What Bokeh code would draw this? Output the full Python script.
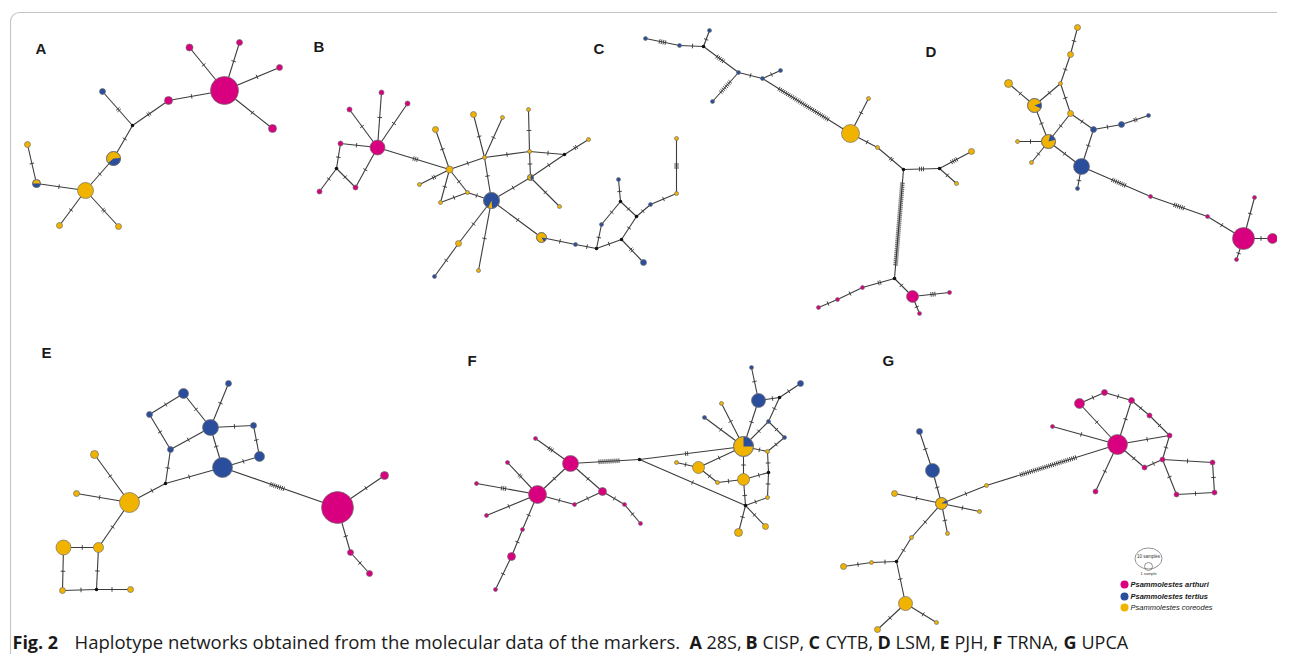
import math
from bokeh.plotting import figure
from bokeh.models import Range1d, BoxAnnotation
from bokeh.embed import file_html
from bokeh.resources import INLINE
from bokeh.core.properties import value

H = 670  # image height, used to flip y (data y = H - pixel y)

COLORS = {"a": "#d8007f", "t": "#2b4e9c", "c": "#f0b400", "m": "#111111"}

# ---- node lists: (name, x, y, radius, species)  a=arthuri t=tertius c=coreodes m=median vector
A_nodes = [("P0", 224, 90, 14, "a"), ("P1", 189, 47, 3.5, "a"), ("P2", 239, 42, 3, "a"),
           ("P3", 279, 67, 3, "a"), ("P4", 272, 128, 4, "a"), ("P5", 168, 100, 4, "a"),
           ("J1", 132, 125, 1.8, "m"), ("B1", 102, 91, 3, "t"), ("X1", 113, 158, 7, "c"),
           ("Y0", 85, 190, 8, "c"), ("X2", 36, 183, 4, "c"), ("Y1", 27, 144, 3, "c"),
           ("Y2", 59, 225, 3, "c"), ("Y3", 118, 226, 3, "c")]
A_edges = [("P0", "P1", 1), ("P0", "P2", 1), ("P0", "P3", 1), ("P0", "P4", 1), ("P0", "P5", 1),
           ("P5", "J1", 2), ("J1", "B1", 2), ("J1", "X1", 1), ("X1", "Y0", 1), ("Y0", "X2", 1),
           ("X2", "Y1", 1), ("Y0", "Y2", 1), ("Y0", "Y3", 2)]

B_nodes = [("P0", 377, 147, 7.5, "a"), ("P1", 381, 92, 2.5, "a"), ("P2", 407, 103, 2.5, "a"),
           ("P3", 349, 109, 2.5, "a"), ("P4", 340, 143, 2.5, "a"), ("J1", 336, 168, 1.8, "m"),
           ("P5", 319, 191, 2.5, "a"), ("P6", 355, 187, 2.5, "a"), ("Y1", 449, 169, 3.5, "c"),
           ("Y2", 435, 129, 3, "c"), ("Y3", 419, 184, 2, "c"), ("Y4", 440, 202, 2, "c"),
           ("Y5", 467, 192, 2, "c"), ("Y6", 484, 157, 2, "c"), ("Y7", 473, 114, 3, "c"),
           ("Y8", 502, 117, 2, "c"), ("Y9", 529, 151, 2, "c"), ("Y10", 528, 109, 2, "c"),
           ("J2", 564, 154, 1.8, "m"), ("Y11", 588, 139, 2, "c"), ("X1", 530, 177, 3, "c"),
           ("Y12", 559, 206, 2, "c"), ("B0", 491, 200, 8, "t"), ("Y13", 458, 243, 3, "c"),
           ("B1", 434, 276, 2, "t"), ("Y14", 478, 270, 2, "c"), ("X2", 541, 237, 5, "c"),
           ("B2", 575, 244, 2, "t"), ("J3", 596, 248, 1.8, "m"), ("B3", 601, 224, 2, "t"),
           ("J4", 620, 201, 1.8, "m"), ("B4", 618, 179, 2, "t"), ("J5", 636, 216, 1.8, "m"),
           ("J6", 621, 239, 1.8, "m"), ("B5", 643, 262, 3, "t"), ("B6", 650, 204, 2, "t"),
           ("Y15", 676, 193, 2, "c"), ("Y16", 676, 138, 2, "c")]
B_edges = [("P0", "P1", 1), ("P0", "P2", 1), ("P0", "P3", 1), ("P0", "P4", 1), ("P4", "J1", 1),
           ("J1", "P5", 1), ("J1", "P6", 1), ("P6", "P0", 1), ("P0", "Y1", 3), ("Y1", "Y2", 1),
           ("Y1", "Y3", 2), ("Y1", "Y4", 1), ("Y1", "Y5", 1), ("Y5", "Y4", 1), ("Y5", "B0", 1),
           ("Y1", "Y6", 1), ("Y6", "Y7", 1), ("Y6", "Y8", 1), ("Y6", "B0", 1), ("Y6", "Y9", 1),
           ("Y9", "Y10", 1), ("Y9", "J2", 1), ("J2", "Y11", 2), ("J2", "X1", 1), ("Y9", "X1", 1),
           ("X1", "Y12", 1), ("X1", "B0", 1), ("B0", "Y13", 1), ("Y13", "B1", 1), ("B0", "Y14", 1),
           ("B0", "X2", 1), ("X2", "B2", 1), ("B2", "J3", 1), ("J3", "B3", 1), ("B3", "J4", 1),
           ("J4", "B4", 1), ("J4", "J5", 1), ("J3", "J6", 1), ("J6", "J5", 1), ("J6", "B5", 2),
           ("J5", "B6", 1), ("B6", "Y15", 1), ("Y15", "Y16", 3)]

C_nodes = [("B1", 645, 38, 2, "t"), ("B2", 679, 45, 2, "t"), ("J1", 703, 46, 1.8, "m"),
           ("B3", 709, 30, 2, "t"), ("B4", 738, 72, 2, "t"), ("B5", 712, 101, 2, "t"),
           ("B6", 762, 78, 2, "t"), ("B7", 780, 70, 2, "t"), ("Y0", 850, 133, 9, "c"),
           ("Y1", 868, 98, 2, "c"), ("Y2", 877, 147, 2, "c"), ("J2", 903, 169, 1.8, "m"),
           ("J3", 939, 168, 1.8, "m"), ("Y3", 971, 151, 3, "c"), ("Y4", 956, 183, 2, "c"),
           ("J4", 894, 278, 1.8, "m"), ("P0", 912, 296, 6, "a"), ("P1", 949, 292, 2, "a"),
           ("P2", 919, 313, 2, "a"), ("P3", 862, 287, 2, "a"), ("P4", 837, 299, 2, "a"),
           ("P5", 818, 307, 2, "a")]
C_edges = [("B1", "B2", 4), ("B2", "J1", 1), ("J1", "B3", 1), ("J1", "B4", 5), ("B4", "B5", 8),
           ("B4", "B6", 1), ("B6", "B7", 1), ("B6", "Y0", 30), ("Y0", "Y1", 1), ("Y0", "Y2", 1),
           ("Y2", "J2", 2), ("J2", "J3", 3), ("J3", "Y3", 4), ("J3", "Y4", 1), ("J2", "J4", 42),
           ("J4", "P0", 1), ("J4", "P3", 2), ("P3", "P4", 1), ("P4", "P5", 1), ("P0", "P1", 3),
           ("P0", "P2", 1)]

D_nodes = [("Y1", 1077, 27, 3, "c"), ("Y2", 1070, 54, 3, "c"), ("Y3", 1008, 83, 4, "c"),
           ("Y4", 1060, 83, 2, "c"), ("X1", 1034, 105, 7, "c"), ("Y5", 1070, 113, 3, "c"),
           ("B1", 1093, 129, 3, "t"), ("B2", 1121, 124, 3, "t"), ("B3", 1148, 115, 2, "t"),
           ("X2", 1048, 141, 7, "c"), ("Y6", 1017, 141, 2, "c"), ("Y7", 1031, 162, 2, "c"),
           ("B0", 1081, 166, 8, "t"), ("B4", 1077, 188, 2, "t"), ("P1", 1150, 196, 2, "a"),
           ("P2", 1207, 216, 2, "a"), ("P0", 1243, 238, 11, "a"), ("P3", 1254, 197, 2, "a"),
           ("P4", 1236, 259, 2, "a"), ("P5", 1272, 238, 5, "a")]
D_edges = [("Y1", "Y2", 1), ("Y2", "Y4", 1), ("Y4", "X1", 1), ("Y4", "Y5", 1), ("Y3", "X1", 1),
           ("X1", "X2", 1), ("Y5", "X2", 1), ("Y5", "B1", 1), ("B1", "B2", 1), ("B2", "B3", 2),
           ("B1", "B0", 1), ("X2", "Y6", 1), ("X2", "Y7", 1), ("X2", "B0", 1), ("B0", "B4", 1),
           ("B0", "P1", 8), ("P1", "P2", 6), ("P2", "P0", 1), ("P0", "P3", 1), ("P0", "P4", 1),
           ("P0", "P5", 1)]

E_nodes = [("B1", 183, 393, 5, "t"), ("B2", 228, 383, 3, "t"), ("B3", 149, 414, 3, "t"),
           ("B0", 210, 427, 8, "t"), ("B4", 253, 425, 3, "t"), ("B5", 170, 449, 3, "t"),
           ("B6", 259, 456, 5, "t"), ("B7", 222, 467, 10, "t"), ("J1", 165, 483, 1.8, "m"),
           ("Y1", 94, 454, 4, "c"), ("Y2", 76, 493, 3, "c"), ("Y0", 129, 502, 10, "c"),
           ("Y3", 63, 547, 7.5, "c"), ("Y4", 98, 547, 5, "c"), ("Y5", 62, 590, 3, "c"),
           ("J2", 96, 589, 1.8, "m"), ("Y6", 130, 589, 3, "c"), ("P0", 337, 507, 16, "a"),
           ("P1", 384, 475, 4, "a"), ("P2", 350, 552, 3, "a"), ("P3", 369, 573, 3, "a")]
E_edges = [("B1", "B3", 1), ("B1", "B0", 1), ("B2", "B0", 1), ("B3", "B5", 1), ("B5", "B0", 1),
           ("B0", "B4", 1), ("B4", "B6", 1), ("B6", "B7", 1), ("B0", "B7", 1), ("B5", "J1", 1),
           ("J1", "B7", 1), ("J1", "Y0", 1), ("Y0", "Y1", 1), ("Y0", "Y2", 1), ("Y0", "Y4", 1),
           ("Y3", "Y4", 1), ("Y3", "Y5", 1), ("Y4", "J2", 1), ("J2", "Y5", 1), ("J2", "Y6", 1),
           ("B7", "P0", 8), ("P0", "P1", 1), ("P0", "P2", 1), ("P2", "P3", 1)]

F_nodes = [("P1", 535, 438, 2, "a"), ("P0", 570, 463, 8, "a"), ("P2", 507, 462, 2, "a"),
           ("P3", 476, 483, 2, "a"), ("P4", 537, 494, 9, "a"), ("P5", 486, 515, 2, "a"),
           ("P6", 574, 504, 2, "a"), ("P7", 602, 491, 4, "a"), ("P8", 624, 504, 2, "a"),
           ("P9", 640, 523, 2, "a"), ("P10", 522, 529, 2, "a"), ("P11", 511, 556, 4, "a"),
           ("P12", 495, 589, 2, "a"), ("J1", 639, 459, 1.8, "m"), ("J2", 745, 505, 1.8, "m"),
           ("X0", 743, 446, 10, "c"), ("B0", 758, 400, 7, "t"), ("B1", 751, 367, 2, "t"),
           ("B2", 800, 383, 3, "t"), ("J3", 779, 397, 1.8, "m"), ("B3", 768, 421, 2, "t"),
           ("B4", 784, 437, 2, "t"), ("Y1", 767, 451, 2, "c"), ("Y2", 721, 403, 2, "c"),
           ("B5", 704, 417, 2, "t"), ("Y3", 698, 467, 6, "c"), ("Y4", 676, 462, 2, "c"),
           ("Y5", 717, 482, 2, "c"), ("Y6", 743, 479, 6, "c"), ("J4", 768, 472, 1.8, "m"),
           ("Y7", 767, 497, 2, "c"), ("Y8", 738, 532, 4, "c"), ("Y9", 765, 526, 3, "c")]
F_edges = [("P1", "P0", 3), ("P0", "P4", 1), ("P0", "P7", 1), ("P0", "J1", 11), ("P2", "P4", 2),
           ("P3", "P4", 3), ("P5", "P4", 1), ("P4", "P6", 1), ("P6", "P7", 1), ("P7", "P8", 1),
           ("P8", "P9", 1), ("P4", "P10", 1), ("P10", "P11", 1), ("P11", "P12", 1), ("J1", "X0", 2),
           ("J1", "J2", 1), ("X0", "Y3", 1), ("X0", "Y2", 1), ("X0", "B5", 1), ("X0", "B0", 1),
           ("B0", "B1", 1), ("B0", "J3", 1), ("J3", "B2", 1), ("J3", "B3", 1), ("B3", "X0", 1),
           ("B3", "B4", 1), ("B4", "Y1", 1), ("X0", "Y1", 1), ("Y4", "Y3", 1), ("Y3", "Y5", 1),
           ("Y5", "Y6", 1), ("X0", "Y6", 1), ("Y6", "J4", 1), ("Y1", "J4", 1), ("J4", "Y7", 1),
           ("Y6", "J2", 1), ("Y7", "J2", 1), ("J2", "Y8", 1), ("J2", "Y9", 1)]

G_nodes = [("P1", 1079, 403, 5, "a"), ("P2", 1104, 392, 3, "a"), ("P3", 1131, 400, 3, "a"),
           ("P4", 1149, 415, 2.5, "a"), ("P5", 1169, 435, 2.5, "a"), ("P6", 1052, 426, 2, "a"),
           ("P0", 1117, 444, 10, "a"), ("P7", 1162, 459, 2.5, "a"), ("P8", 1144, 467, 2.5, "a"),
           ("P9", 1095, 491, 2.5, "a"), ("P10", 1212, 462, 2.5, "a"), ("P11", 1214, 492, 2.5, "a"),
           ("P12", 1176, 494, 2.5, "a"), ("B1", 919, 431, 3, "t"), ("B0", 932, 470, 7, "t"),
           ("X0", 941, 503, 6, "c"), ("Y1", 894, 493, 3, "c"), ("Y2", 979, 511, 2, "c"),
           ("Y3", 947, 533, 2, "c"), ("Y4", 986, 485, 2, "c"), ("Y5", 911, 537, 2, "c"),
           ("J1", 896, 561, 1.8, "m"), ("Y6", 871, 562, 2, "c"), ("Y7", 843, 566, 3, "c"),
           ("Y0", 905, 603, 7, "c"), ("Y8", 877, 629, 3, "c"), ("Y9", 936, 622, 2, "c")]
G_edges = [("P1", "P2", 1), ("P2", "P3", 1), ("P3", "P4", 1), ("P4", "P5", 1), ("P1", "P0", 1),
           ("P3", "P0", 1), ("P6", "P0", 1), ("P0", "P5", 1), ("P5", "P7", 1), ("P0", "P8", 1),
           ("P8", "P7", 1), ("P0", "P9", 1), ("P7", "P10", 1), ("P10", "P11", 1), ("P11", "P12", 1),
           ("P12", "P7", 1), ("P0", "Y4", 30), ("Y4", "X0", 1), ("X0", "B0", 1), ("B0", "B1", 1),
           ("X0", "Y1", 1), ("X0", "Y2", 1), ("X0", "Y3", 1), ("X0", "Y5", 1), ("Y5", "J1", 1),
           ("J1", "Y6", 1), ("Y6", "Y7", 1), ("J1", "Y0", 1), ("Y0", "Y8", 1), ("Y0", "Y9", 1)]

# ---- mixed haplotypes: (panel, node, species of wedge, start deg, end deg) counter-clockwise
PIES = [("A", "X1", "t", 220, 365), ("A", "X2", "t", 180, 360),
        ("B", "B0", "c", 245, 275), ("B", "X1", "t", 280, 440), ("B", "X2", "t", 300, 350),
        ("D", "X1", "t", 335, 380), ("D", "X2", "t", 15, 75),
        ("F", "X0", "t", 0, 90), ("G", "X0", "t", 0, 35)]

PANEL_LABELS = ["A", "B", "C", "D", "E", "F", "G"]
LABEL_X = [35, 313, 593, 925, 41, 467, 882]
LABEL_Y = [47.5, 46, 48, 51, 352, 360, 360]   # vertical centre of the letters

LEGEND_SPECIES = ["a", "t", "c"]
LEGEND_NAMES = ["Psammolestes arthuri", "Psammolestes tertius", "Psammolestes coreodes"]
LEGEND_STYLES = ["bold italic", "bold italic", "italic"]
LEGEND_Y = [584, 596, 607]

CAPTION = [("Fig. 2", "bold", 12, 18), ("Haplotype networks obtained from the molecular data of the markers.", "normal", 74, 18.5),
           ("A", "bold", 689, 18), ("28S,", "normal", 706, 18), ("B", "bold", 745, 18), ("CISP,", "normal", 762, 18),
           ("C", "bold", 808, 18), ("CYTB,", "normal", 825, 18), ("D", "bold", 877, 18), ("LSM,", "normal", 895, 18),
           ("E", "bold", 939, 18), ("PJH,", "normal", 954, 18), ("F", "bold", 992, 18), ("TRNA,", "normal", 1007, 18),
           ("G", "bold", 1063, 18), ("UPCA", "normal", 1081, 18)]
CAPTION_MID = 641

PANELS = {"A": (A_nodes, A_edges), "B": (B_nodes, B_edges), "C": (C_nodes, C_edges),
          "D": (D_nodes, D_edges), "E": (E_nodes, E_edges), "F": (F_nodes, F_edges),
          "G": (G_nodes, G_edges)}

W, HH = 1277, 654
p = figure(width=W, height=HH, x_range=Range1d(0, W), y_range=Range1d(H - HH, H),
           output_backend="svg", toolbar_location=None, x_axis_location=None,
           y_axis_location=None, min_border=0)
p.grid.visible = False
p.outline_line_color = None

# frame
p.add_layout(BoxAnnotation(left=10, right=1292, top=H - 12, bottom=H - 690, border_radius=9,
                           fill_color=None, line_color="#3a3a3a", line_width=1.1))

ex0, ey0, ex1, ey1 = [], [], [], []
tx0, ty0, tx1, ty1 = [], [], [], []
cx, cy, cr, cc = [], [], [], []
mx, my = [], []
wx, wy, wr, ws, we, wc = [], [], [], [], [], []

for key, (nodes, edges) in PANELS.items():
    pos = {n[0]: n for n in nodes}
    for a, b, k in edges:
        na, nb = pos[a], pos[b]
        xa, ya, xb, yb = na[1], H - na[2], nb[1], H - nb[2]
        ex0.append(xa); ey0.append(ya); ex1.append(xb); ey1.append(yb)
        dx, dy = xb - xa, yb - ya
        L = math.hypot(dx, dy)
        ux, uy = dx / L, dy / L
        vx, vy = -uy, ux
        sa = na[3] if na[4] != "m" else 0
        sb = nb[3] if nb[4] != "m" else 0
        midx = xa + ux * (sa + (L - sa - sb) / 2)
        midy = ya + uy * (sa + (L - sa - sb) / 2)
        sp = 2.0
        h = 2.3
        for i in range(k):
            off = (i - (k - 1) / 2) * sp
            px, py = midx + ux * off, midy + uy * off
            tx0.append(px - vx * h); ty0.append(py - vy * h)
            tx1.append(px + vx * h); ty1.append(py + vy * h)
    for name, x, y, r, s in nodes:
        if s == "m":
            mx.append(x); my.append(H - y)
        else:
            cx.append(x); cy.append(H - y); cr.append(r); cc.append(COLORS[s])

for panel, node, s, a0, a1 in PIES:
    n = {q[0]: q for q in PANELS[panel][0]}[node]
    wx.append(n[1]); wy.append(H - n[2]); wr.append(n[3])
    ws.append(math.radians(a0)); we.append(math.radians(a1)); wc.append(COLORS[s])

p.segment(ex0, ey0, ex1, ey1, line_color="#3c3c3c", line_width=1.1)
p.segment(tx0, ty0, tx1, ty1, line_color="#333333", line_width=0.9)
p.circle(cx, cy, radius=cr, fill_color=cc, line_color="#707070", line_width=0.7)
p.wedge(wx, wy, radius=wr, start_angle=ws, end_angle=we, direction="anticlock",
        fill_color=wc, line_color=None)
p.circle(wx, wy, radius=wr, fill_color=None, line_color="#707070", line_width=0.7)
p.circle(mx, my, radius=1.8, fill_color="#111111", line_color=None)

# panel letters
p.text(LABEL_X, [H - v for v in LABEL_Y], text=PANEL_LABELS, text_font=value("Liberation Sans"),
       text_font_size="15px", text_font_style="bold", text_color="#1a1a1a",
       text_baseline="middle", text_align="left")

# legend
p.ellipse([1148], [H - 558], width=27, height=21, fill_color=None, line_color="#777777", line_width=0.8)
p.circle([1148], [H - 566], radius=4, fill_color=None, line_color="#777777", line_width=0.8)
p.text([1148], [H - 556], text=["10 samples"], text_font=value("Liberation Sans"),
       text_font_size="4.5px", text_align="center", text_baseline="middle", text_color="#333333")
p.text([1148], [H - 573], text=["1 sample"], text_font=value("Liberation Sans"),
       text_font_size="4px", text_align="center", text_baseline="middle", text_color="#333333")
p.circle([1124] * 3, [H - v for v in LEGEND_Y], radius=4,
         fill_color=[COLORS[s] for s in LEGEND_SPECIES], line_color=None)
for name, st, yy in zip(LEGEND_NAMES, LEGEND_STYLES, LEGEND_Y):
    p.text([1130], [H - yy], text=[name], text_font=value("Liberation Sans"), text_font_size="7.5px",
           text_font_style=st, text_align="left", text_baseline="middle", text_color="#1a1a1a")

# caption
for txt, st, xx, fs in CAPTION:
    p.text([xx], [H - CAPTION_MID], text=[txt], text_font=value("Open Sans"), text_font_size=f"{fs}px",
           text_font_style=st, text_align="left", text_baseline="middle", text_color="#1a1a1a")

open("out.html", "w").write(file_html(p, INLINE))
